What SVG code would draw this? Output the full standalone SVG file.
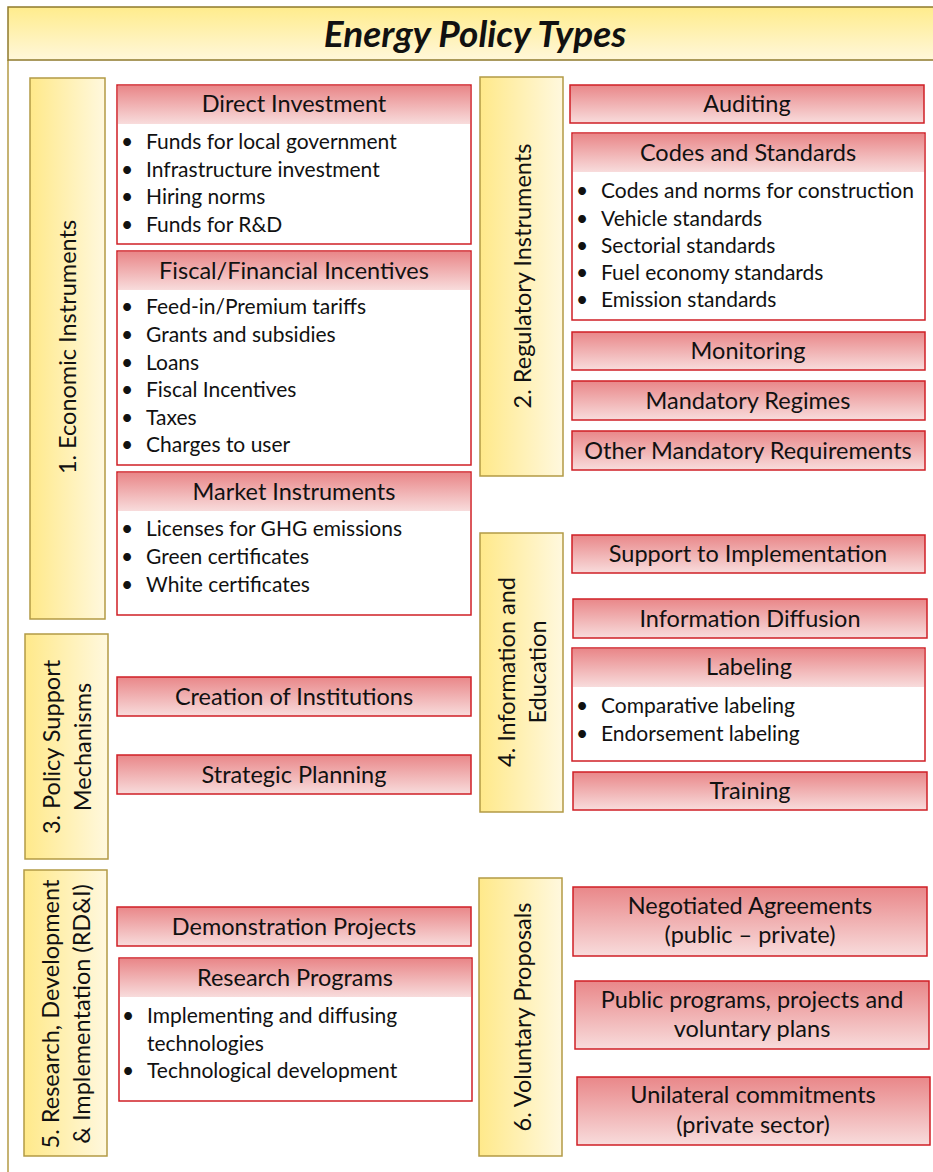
<svg xmlns="http://www.w3.org/2000/svg" width="933" height="1172" viewBox="0 0 933 1172">
<defs>
<linearGradient id="gTitle" x1="0" y1="0" x2="0" y2="1"><stop offset="0" stop-color="#ffec8c"/><stop offset="1" stop-color="#fff7da"/></linearGradient>
<linearGradient id="gCat" x1="0" y1="0" x2="1" y2="0"><stop offset="0" stop-color="#ffe98a"/><stop offset="1" stop-color="#fff8de"/></linearGradient>
<linearGradient id="gRed" x1="0" y1="0" x2="0" y2="1"><stop offset="0" stop-color="#e98789"/><stop offset="1" stop-color="#f8dcdc"/></linearGradient>
<style>
.cat{fill:url(#gCat);stroke:#b39a45;stroke-width:1.5}
.red{fill:url(#gRed);stroke:#cf1f26;stroke-width:1.5}
.body{fill:#fff;stroke:#cf1f26;stroke-width:1.5}
.hdr{fill:url(#gRed)}
text{font-family:Lato,"Liberation Sans",sans-serif;fill:#111;font-size:21px}
.c{text-anchor:middle;font-size:23.5px}
.v{text-anchor:middle;font-size:23.5px}
.title{font-size:37px;font-weight:bold;font-style:italic;text-anchor:middle}
</style>
</defs>
<rect width="933" height="1172" fill="#fff"/>
<g id="frame">
<line x1="8" y1="60" x2="8" y2="1172" stroke="#b39a45" stroke-width="1.5"/>
<rect x="8" y="7" width="940" height="53" fill="url(#gTitle)" stroke="#8f7a2c" stroke-width="1.5"/>
<text class="title" x="475" y="47">Energy Policy Types</text>
</g>

<g id="cat1"><rect class="cat" x="30" y="78" width="75" height="541"/><text class="v" transform="translate(76,347) rotate(-90)">1. Economic Instruments</text></g>
<g id="cat2"><rect class="cat" x="480" y="77" width="83" height="399"/><text class="v" transform="translate(531,276) rotate(-90)">2. Regulatory Instruments</text></g>
<g id="cat3"><rect class="cat" x="25" y="634" width="83" height="225"/><text class="v" transform="translate(60,747) rotate(-90)">3. Policy Support</text><text class="v" transform="translate(91,747) rotate(-90)">Mechanisms</text></g>
<g id="cat4"><rect class="cat" x="480" y="533" width="83" height="279"/><text class="v" transform="translate(515,672) rotate(-90)">4. Information and</text><text class="v" transform="translate(546,672) rotate(-90)">Education</text></g>
<g id="cat5"><rect class="cat" x="24" y="870" width="83" height="286"/><text class="v" transform="translate(59,1014) rotate(-90)">5. Research, Development</text><text class="v" transform="translate(90,1014) rotate(-90)">&amp; Implementation (RD&amp;I)</text></g>
<g id="cat6"><rect class="cat" x="479" y="878" width="83" height="278"/><text class="v" transform="translate(531,1017) rotate(-90)">6. Voluntary Proposals</text></g>

<g id="direct-investment">
<rect class="body" x="117" y="85" width="354" height="159"/><rect class="hdr" x="118" y="86" width="352" height="38"/>
<text class="c" x="294" y="112">Direct  Investment</text>
<text x="121" y="149">•</text><text x="146" y="149">Funds for local government</text>
<text x="121" y="177">•</text><text x="146" y="177">Infrastructure investment</text>
<text x="121" y="204">•</text><text x="146" y="204">Hiring norms</text>
<text x="121" y="232">•</text><text x="146" y="232">Funds for R&amp;D</text>
</g>
<g id="fiscal-incentives">
<rect class="body" x="117" y="251" width="354" height="214"/><rect class="hdr" x="118" y="252" width="352" height="38"/>
<text class="c" x="294" y="279">Fiscal/Financial Incentives</text>
<text x="121" y="314">•</text><text x="146" y="314">Feed-in/Premium tariffs</text>
<text x="121" y="342">•</text><text x="146" y="342">Grants and subsidies</text>
<text x="121" y="370">•</text><text x="146" y="370">Loans</text>
<text x="121" y="397">•</text><text x="146" y="397">Fiscal Incentives</text>
<text x="121" y="425">•</text><text x="146" y="425">Taxes</text>
<text x="121" y="452">•</text><text x="146" y="452">Charges to user</text>
</g>
<g id="market-instruments">
<rect class="body" x="117" y="472" width="354" height="143"/><rect class="hdr" x="118" y="473" width="352" height="38"/>
<text class="c" x="294" y="500">Market Instruments</text>
<text x="121" y="536">•</text><text x="146" y="536">Licenses for GHG emissions</text>
<text x="121" y="564">•</text><text x="146" y="564">Green certificates</text>
<text x="121" y="592">•</text><text x="146" y="592">White certificates</text>
</g>
<g id="creation-institutions"><rect class="red" x="117" y="677" width="354" height="39"/><text class="c" x="294" y="705">Creation of Institutions</text></g>
<g id="strategic-planning"><rect class="red" x="117" y="755" width="354" height="39"/><text class="c" x="294" y="783">Strategic Planning</text></g>
<g id="demonstration-projects"><rect class="red" x="117" y="907" width="354" height="39"/><text class="c" x="294" y="935">Demonstration Projects</text></g>
<g id="research-programs">
<rect class="body" x="119" y="958" width="353" height="143"/><rect class="hdr" x="120" y="959" width="351" height="38"/>
<text class="c" x="295" y="986">Research Programs</text>
<text x="122" y="1023">•</text><text x="147" y="1023">Implementing and diffusing</text>
<text x="147" y="1051">technologies</text>
<text x="122" y="1078">•</text><text x="147" y="1078">Technological development</text>
</g>

<g id="auditing"><rect class="red" x="570" y="85" width="354" height="38"/><text class="c" x="747" y="112">Auditing</text></g>
<g id="codes-standards">
<rect class="body" x="572" y="133" width="353" height="187"/><rect class="hdr" x="573" y="134" width="351" height="38"/>
<text class="c" x="748" y="161">Codes and Standards</text>
<text x="576" y="198">•</text><text x="601" y="198">Codes and norms for construction</text>
<text x="576" y="226">•</text><text x="601" y="226">Vehicle standards</text>
<text x="576" y="253">•</text><text x="601" y="253">Sectorial standards</text>
<text x="576" y="280">•</text><text x="601" y="280">Fuel economy standards</text>
<text x="576" y="307">•</text><text x="601" y="307">Emission standards</text>
</g>
<g id="monitoring"><rect class="red" x="572" y="332" width="353" height="38"/><text class="c" x="748" y="359">Monitoring</text></g>
<g id="mandatory-regimes"><rect class="red" x="572" y="381" width="353" height="39"/><text class="c" x="748" y="409">Mandatory Regimes</text></g>
<g id="other-mandatory"><rect class="red" x="572" y="431" width="353" height="39"/><text class="c" x="748" y="459">Other Mandatory Requirements</text></g>

<g id="support-implementation"><rect class="red" x="572" y="535" width="353" height="38"/><text class="c" x="748" y="562">Support to Implementation</text></g>
<g id="information-diffusion"><rect class="red" x="573" y="599" width="354" height="39"/><text class="c" x="750" y="627">Information Diffusion</text></g>
<g id="labeling">
<rect class="body" x="572" y="648" width="353" height="113"/><rect class="hdr" x="573" y="649" width="351" height="38"/>
<text class="c" x="749" y="675">Labeling</text>
<text x="576" y="713">•</text><text x="601" y="713">Comparative labeling</text>
<text x="576" y="741">•</text><text x="601" y="741">Endorsement labeling</text>
</g>
<g id="training"><rect class="red" x="573" y="772" width="354" height="38"/><text class="c" x="750" y="799">Training</text></g>

<g id="negotiated-agreements"><rect class="red" x="573" y="887" width="354" height="69"/><text class="c" x="750" y="914">Negotiated Agreements</text><text class="c" x="750" y="943">(public – private)</text></g>
<g id="public-programs"><rect class="red" x="575" y="981" width="354" height="68"/><text class="c" x="752" y="1008">Public programs, projects and</text><text class="c" x="752" y="1037">voluntary plans</text></g>
<g id="unilateral-commitments"><rect class="red" x="577" y="1077" width="353" height="68"/><text class="c" x="753" y="1103">Unilateral commitments</text><text class="c" x="753" y="1133">(private sector)</text></g>
</svg>
